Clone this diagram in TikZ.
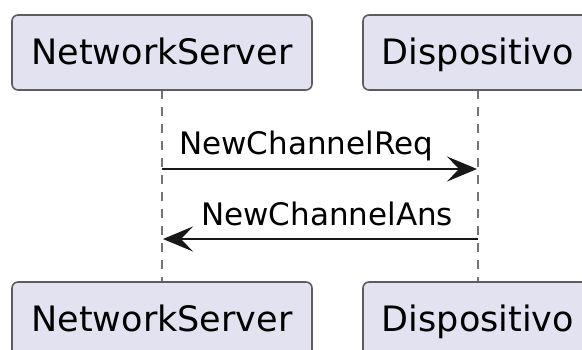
\documentclass[tikz,border=0pt]{standalone}
\usepackage{fontspec}
\setmainfont{DejaVu Sans}
\usetikzlibrary{arrows.meta}
\definecolor{partfill}{HTML}{E2E2F0}
\definecolor{partline}{HTML}{181818}
\tikzset{
  participant/.style={draw=partline!70, line width=1.6pt, fill=partfill,
    rounded corners=6pt, minimum height=75pt, inner sep=0pt,
    font=\fontsize{35}{40}\selectfont, text height=25pt, text depth=2pt},
  lifeline/.style={draw=partline!60, line width=1.3pt, dash pattern=on 9pt off 8pt},
  message/.style={draw=partline, line width=2.6pt,
    -{Stealth[length=30pt, width=25pt, inset=12pt]}},
  msglabel/.style={font=\fontsize{31}{36}\selectfont, anchor=base west, inner sep=0pt}
}
\begin{document}
\begin{tikzpicture}[x=1pt, y=-1pt]
  \useasboundingbox (0,0) rectangle (582,349);
  % lifelines
  \coordinate (nsTop) at (162,90);
  \coordinate (nsBot) at (162,282);
  \coordinate (dvTop) at (478,90);
  \coordinate (dvBot) at (478,282);
  \draw[lifeline] (nsTop) -- (nsBot);
  \draw[lifeline] (dvTop) -- (dvBot);
  % participants, top and bottom
  \node[participant, minimum width=300pt] (ns1) at (162,52.5) {NetworkServer};
  \node[participant, minimum width=230pt] (dv1) at (478,52.5) {Dispositivo};
  \node[participant, minimum width=300pt] (ns2) at (162,319.5) {NetworkServer};
  \node[participant, minimum width=230pt] (dv2) at (478,319.5) {Dispositivo};
  % messages
  \coordinate (m1s) at (162,169);
  \coordinate (m1e) at (477,169);
  \coordinate (m2s) at (478,239);
  \coordinate (m2e) at (163,239);
  \draw[message] (m1s) -- (m1e);
  \draw[message] (m2s) -- (m2e);
  \node[msglabel] (l1) at (179,154) {NewChannelReq};
  \node[msglabel] (l2) at (201,225) {NewChannelAns};
\end{tikzpicture}
\end{document}
